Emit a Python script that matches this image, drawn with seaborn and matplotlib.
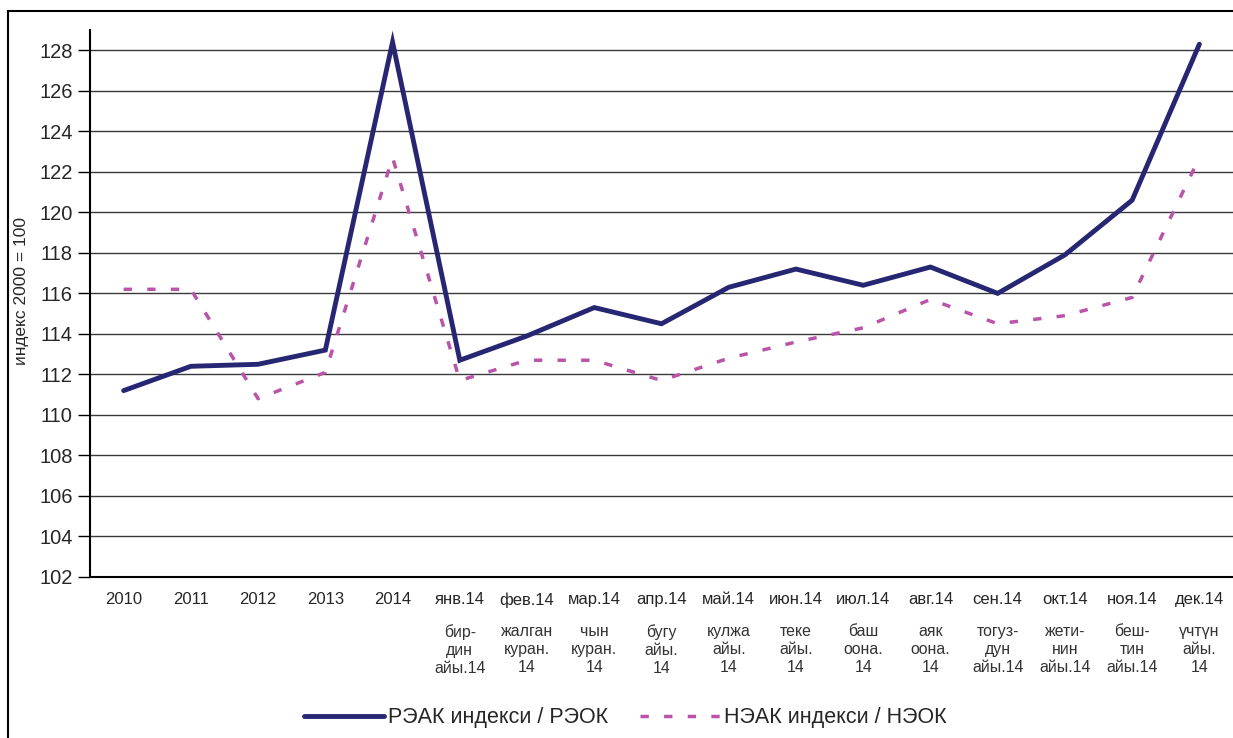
import numpy as np
import pandas as pd
import matplotlib
matplotlib.use("Agg")
import matplotlib.pyplot as plt
from matplotlib.patches import Rectangle
import seaborn as sns

# данные
categories = ['2010', '2011', '2012', '2013', '2014',
              'янв.14', 'фев.14', 'мар.14', 'апр.14', 'май.14', 'июн.14',
              'июл.14', 'авг.14', 'сен.14', 'окт.14', 'ноя.14', 'дек.14']
kg_labels = ['', '', '', '', '',
             'бир-\nдин\nайы.14', 'жалган\nкуран.\n14', 'чын\nкуран.\n14',
             'бугу\nайы.\n14', 'кулжа\nайы.\n14', 'теке\nайы.\n14',
             'баш\nоона.\n14', 'аяк\nоона.\n14', 'тогуз-\nдун\nайы.14',
             'жети-\nнин\nайы.14', 'беш-\nтин\nайы.14', 'үчтүн\nайы.\n14']
reak = [111.2, 112.4, 112.5, 113.2, 128.4,
        112.7, 113.9, 115.3, 114.5, 116.3, 117.2,
        116.4, 117.3, 116.0, 117.9, 120.6, 128.3]
neak = [116.2, 116.2, 110.8, 112.1, 122.7,
        111.7, 112.7, 112.7, 111.7, 112.8, 113.6,
        114.3, 115.7, 114.5, 114.9, 115.8, 122.7]
yticks = list(range(102, 129, 2))

label_reak = 'РЭАК индекси / РЭОК'
label_neak = 'НЭАК индекси / НЭОК'

pos = np.arange(len(categories))
df_reak = pd.DataFrame({'x': pos, 'y': reak})
df_neak = pd.DataFrame({'x': pos, 'y': neak})

sns.set_theme(style="white")
plt.rcParams['font.family'] = ['Liberation Sans', 'DejaVu Sans']

fig = plt.figure(figsize=(12.33, 7.38), dpi=100)
ax = fig.add_axes([90 / 1233, 1 - 577 / 738, 1 - 90 / 1233, (577 - 30) / 738])

sns.lineplot(data=df_reak, x='x', y='y', ax=ax, color='#262673', lw=3.5,
             label=label_reak, solid_joinstyle='miter')
sns.lineplot(data=df_neak, x='x', y='y', ax=ax, color='#b954a8', lw=2.5,
             label=label_neak)
ax.lines[1].set_dashes((2.4, 4.4))

ax.set_xlim(-0.5, len(categories) - 0.5)
ax.set_ylim(102, 129)
ax.set_yticks(yticks)
ax.set_yticklabels([str(t) for t in yticks], fontsize=14.5)
ax.yaxis.grid(True, color='#3a3a3a', lw=1.0)
ax.set_axisbelow(True)

ax.set_xticks(pos)
ax.set_xticklabels(categories, fontsize=12)
ax.set_xticks(np.arange(-0.5, len(categories), 1), minor=True)
ax.tick_params(axis='x', which='major', length=0, pad=11)
ax.tick_params(axis='x', which='minor', length=5, width=1, color='black', direction='out')
ax.tick_params(axis='y', length=9, width=1, color='black', direction='out', left=True, pad=3.5)

# киргизские названия месяцев под осью
for i, txt in enumerate(kg_labels):
    if txt:
        ax.text(i, -0.086, txt, transform=ax.get_xaxis_transform(), ha='center', va='top',
                fontsize=11.4, color='#333333', linespacing=1.24)

ax.set_xlabel('')
ax.set_ylabel('')
for s in ['top', 'right']:
    ax.spines[s].set_visible(False)
for s in ['left', 'bottom']:
    ax.spines[s].set_color('black')
    ax.spines[s].set_linewidth(1.5)

fig.text(22 / 1233, 1 - 291 / 738, 'индекс 2000 = 100', rotation=90,
         ha='center', va='center', fontsize=12.5)

handles, labels = ax.get_legend_handles_labels()
ax.get_legend().remove()
fig.legend(handles, labels, loc='center', bbox_to_anchor=(0.507, 1 - 718 / 738), ncol=2,
           frameon=False, fontsize=15.5, handlelength=3.75, handletextpad=0.15, columnspacing=1.5)

fig.add_artist(Rectangle((8 / 1233, -0.1), 1.2, 1 - 11 / 738 + 0.1, transform=fig.transFigure,
                         fill=False, lw=1.5, ec='black'))

fig.savefig('out.png', dpi=100)
